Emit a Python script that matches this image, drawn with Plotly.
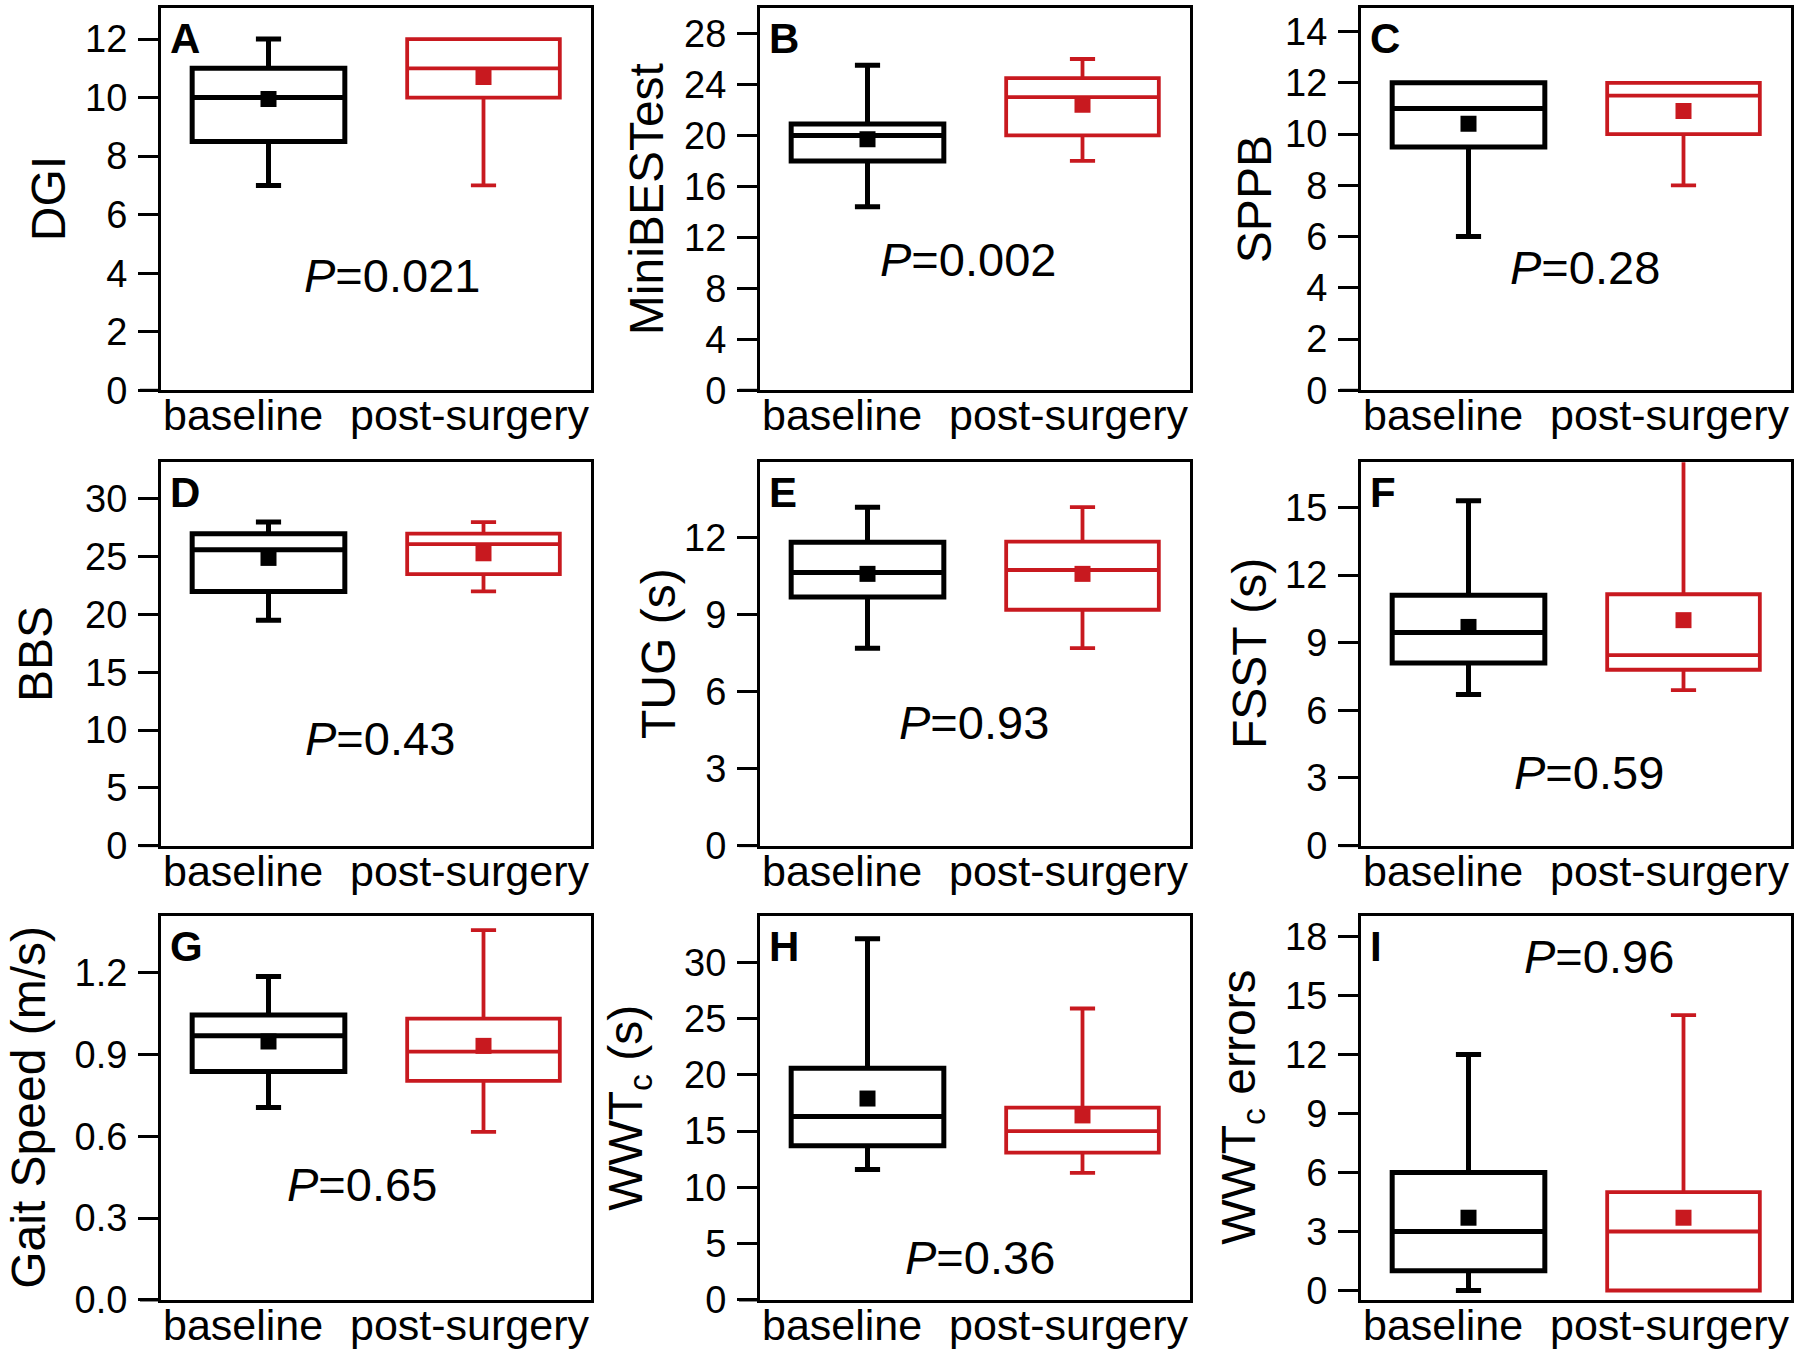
import plotly.graph_objects as go
from plotly.subplots import make_subplots

# panel info
panel_letters = ["A", "B", "C", "D", "E", "F", "G", "H", "I"]
y_titles = ["DGI", "MiniBESTest", "SPPB", "BBS", "TUG (s)", "FSST (s)",
            "Gait Speed (m/s)", "WWT<sub>c</sub> (s)", "WWT<sub>c</sub> errors"]
p_labels = ["0.021", "0.002", "0.28", "0.43", "0.93", "0.59", "0.65", "0.36", "0.96"]
groups = ["baseline", "post-surgery"]

# baseline box stats
base_low = [7, 14.4, 6, 19.5, 7.7, 6.7, 0.705, 11.6, 0]
base_q1 = [8.5, 18, 9.5, 22, 9.7, 8.1, 0.837, 13.7, 1]
base_med = [10, 20, 11, 25.6, 10.65, 9.45, 0.968, 16.3, 3]
base_q3 = [11, 20.9, 12, 27, 11.83, 11.1, 1.044, 20.6, 6]
base_high = [12, 25.5, 12, 28, 13.2, 15.3, 1.185, 32.1, 12]
base_mean = [9.95, 19.7, 10.4, 24.9, 10.6, 9.7, 0.947, 17.9, 3.7]

# post-surgery box stats
post_low = [7, 18, 8, 22, 7.7, 6.9, 0.616, 11.3, 0]
post_q1 = [10, 20, 10, 23.5, 9.2, 7.8, 0.803, 13.1, 0]
post_med = [11, 23, 11.5, 26.1, 10.75, 8.45, 0.910, 15.0, 3]
post_q3 = [12, 24.5, 12, 27, 11.86, 11.15, 1.031, 17.1, 5]
post_high = [12, 26, 12, 28, 13.2, 18.0, 1.355, 25.9, 14]
post_mean = [10.7, 22.4, 10.9, 25.3, 10.6, 10.0, 0.931, 16.4, 3.7]

# axes
y_ranges = [[0, 13.06], [0, 30], [0, 14.92], [0, 33.17], [0, 14.95], [0, 17],
            [0, 1.408], [0, 34.15], [-0.48, 19.05]]
y_dticks = [2, 4, 2, 5, 3, 3, 0.3, 5, 3]

# annotation placement (domain x, data y)
p_x = [0.537, 0.484, 0.521, 0.509, 0.498, 0.53, 0.467, 0.512, 0.553]
p_y = [3.92, 10.3, 4.81, 9.23, 4.81, 3.25, 0.424, 3.77, 17.0]
title_off = [113, 114, 107, 125, 101, 111, 132, 131, 119]

# panel frames measured on the 1800x1355 reference
REF_W, REF_H = 1800, 1355
col_px = [(161, 591), (760, 1190), (1361, 1791)]
row_px = [(8, 390), (462, 845), (915, 1299)]
W, H = 1800, 1377

BLACK = "#000000"
RED = "#c8191f"
FONT = "Liberation Sans, Arial, sans-serif"

fig = make_subplots(rows=3, cols=3)

for i in range(9):
    r, c = i // 3, i % 3
    n = i + 1
    xs = "" if n == 1 else str(n)

    for g, col, lw, stats in [
        (groups[0], BLACK, 5, (base_low, base_q1, base_med, base_q3, base_high, base_mean)),
        (groups[1], RED, 3.8, (post_low, post_q1, post_med, post_q3, post_high, post_mean)),
    ]:
        lo, q1, md, q3, hi, mn = stats
        fig.add_trace(go.Box(
            x=[g], lowerfence=[lo[i]], q1=[q1[i]], median=[md[i]], q3=[q3[i]],
            upperfence=[hi[i]], width=0.71, whiskerwidth=0.165,
            line=dict(color=col, width=lw), fillcolor="rgba(0,0,0,0)",
            boxpoints=False, showlegend=False, hoverinfo="skip"),
            row=r + 1, col=c + 1)
        fig.add_trace(go.Scatter(
            x=[g], y=[mn[i]], mode="markers",
            marker=dict(symbol="square", size=16, color=col, line=dict(width=0)),
            showlegend=False, hoverinfo="skip"),
            row=r + 1, col=c + 1)

    x0, x1 = col_px[c]
    t, b = row_px[r]
    fig.update_layout({
        f"xaxis{xs}": dict(
            domain=[x0 / REF_W, x1 / REF_W], type="category", categoryorder="array",
            categoryarray=groups, range=[-0.5, 1.5],
            showline=True, mirror=True, linecolor=BLACK, linewidth=3,
            ticks="", showgrid=False, zeroline=False, showticklabels=False),
        f"yaxis{xs}": dict(
            domain=[1 - b / REF_H, 1 - t / REF_H], range=y_ranges[i], dtick=y_dticks[i],
            tick0=0, tickformat=".1f" if n == 7 else "",
            showline=True, mirror=True, linecolor=BLACK, linewidth=3,
            ticks="outside", ticklen=20, tickwidth=3, tickcolor=BLACK,
            showgrid=False, zeroline=False,
            tickfont=dict(family=FONT, size=38, color=BLACK), ticklabelstandoff=3),
    })

    pw = x1 - x0
    ph = (b - t) * H / REF_H
    # group labels under the frame
    fig.add_annotation(
        xref=f"x{xs} domain", yref=f"y{xs} domain", x=0, y=0, yshift=1,
        text=groups[0], showarrow=False, xanchor="left", yanchor="top",
        font=dict(family=FONT, size=43, color=BLACK))
    fig.add_annotation(
        xref=f"x{xs} domain", yref=f"y{xs} domain", x=1, y=0, yshift=1,
        text=groups[1], showarrow=False, xanchor="right", yanchor="top",
        font=dict(family=FONT, size=43, color=BLACK))
    # p-value
    fig.add_annotation(
        xref=f"x{xs} domain", yref=f"y{xs}", x=p_x[i], y=p_y[i],
        text=f"<i>P</i>={p_labels[i]}", showarrow=False,
        xanchor="center", yanchor="middle",
        font=dict(family=FONT, size=47, color=BLACK))
    # panel letter
    fig.add_annotation(
        xref=f"x{xs} domain", yref=f"y{xs} domain", x=7 / pw, y=1 - 5 / ph,
        text=f"<b>{panel_letters[i]}</b>", showarrow=False,
        xanchor="left", yanchor="top",
        font=dict(family=FONT, size=42, color=BLACK))
    # y title
    fig.add_annotation(
        xref=f"x{xs} domain", yref=f"y{xs} domain", x=-title_off[i] / pw, y=0.5,
        text=y_titles[i], showarrow=False, textangle=-90,
        xanchor="center", yanchor="middle",
        font=dict(family=FONT, size=48, color=BLACK))
    # bottom axis line running under the tick marks
    if n != 9:
        fig.add_shape(type="line", xref=f"x{xs} domain", yref=f"y{xs} domain",
                      x0=-21 / pw, x1=0, y0=0, y1=0,
                      line=dict(color=BLACK, width=3))

fig.update_layout(
    width=W, height=H, margin=dict(l=0, r=0, t=0, b=0),
    plot_bgcolor="white", paper_bgcolor="white",
    boxmode="overlay", showlegend=False,
    font=dict(family=FONT, color=BLACK),
)

fig.write_html("out.html", config={"displayModeBar": False},
               post_script="document.body.style.margin='0';")
